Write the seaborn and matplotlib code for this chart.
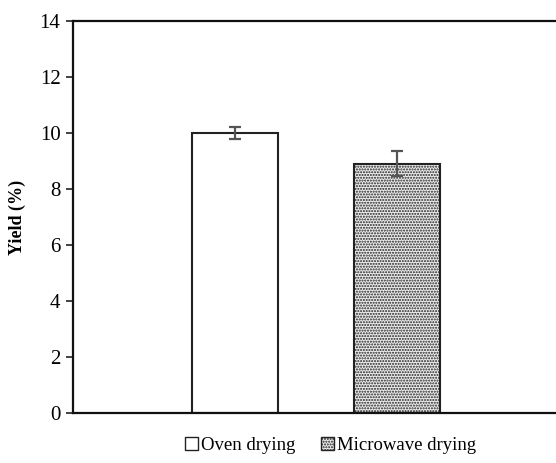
import matplotlib
matplotlib.use("Agg")
import matplotlib.pyplot as plt
import seaborn as sns
import pandas as pd
from matplotlib.patches import Patch

methods = ["Oven drying", "Microwave drying"]
yields = [10.0, 8.9]
errors = [0.22, 0.45]

sns.set_style("white")
plt.rcParams['font.family'] = ['Liberation Serif', 'DejaVu Serif']
plt.rcParams['text.color'] = 'black'
plt.rcParams['axes.labelcolor'] = 'black'
plt.rcParams['ytick.color'] = 'black'
plt.rcParams['hatch.color'] = '#7a7a7a'
plt.rcParams['hatch.linewidth'] = 1.0

df = pd.DataFrame({"method": methods, "yield": yields})

fig = plt.figure(figsize=(5.56, 4.63), dpi=100)
ax = fig.add_axes([73 / 556, 50 / 463, 486 / 556, 392 / 463])

sns.barplot(data=df, x="method", y="yield", hue="method", palette=["white", "#ececec"],
            width=0.525, errorbar=None, edgecolor="#222222", linewidth=1.5,
            legend=False, ax=ax)

bars = ax.patches
bars[1].set_hatch("......")

# error bars on top of each bar
for bar, err in zip(bars, errors):
    cx = bar.get_x() + bar.get_width() / 2
    ax.errorbar(cx, bar.get_height(), yerr=err, fmt="none", ecolor="#555555",
                elinewidth=1.6, capsize=4, capthick=1.6, zorder=5)

ax.set_xlim(-1.0, 2.0)
ax.set_ylim(0, 14)
ax.set_yticks(range(0, 15, 2))
ax.set_xticks([])
ax.set_xlabel("")
ax.set_ylabel("Yield (%)", fontsize=13, fontweight="bold", labelpad=10, color="black")
ax.tick_params(axis="y", direction="out", length=5, width=1.2, left=True,
               labelsize=15, pad=4, color="#222222", labelcolor="black")

for side in ["left", "bottom", "top"]:
    ax.spines[side].set_color("#111111")
    ax.spines[side].set_linewidth(1.6)
ax.spines["right"].set_visible(False)

handles = [Patch(facecolor="white", edgecolor="#222222", linewidth=1.0),
           Patch(facecolor="#ececec", edgecolor="#222222", linewidth=1.0, hatch="......")]
ax.legend(handles, methods, loc="center", bbox_to_anchor=(0.53, -0.084), ncol=2,
          frameon=False, fontsize=13.5, handlelength=0.7, handleheight=0.7,
          handletextpad=0.15, columnspacing=1.4, labelcolor="black")

fig.savefig("out.png", dpi=100)
